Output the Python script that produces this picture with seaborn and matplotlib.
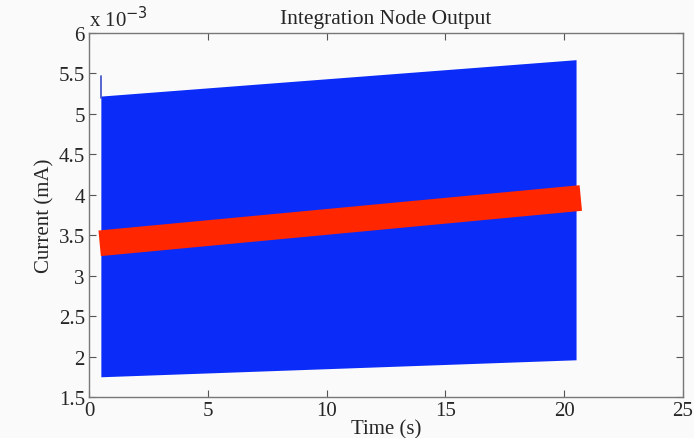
import pandas as pd
import matplotlib
matplotlib.use("Agg")
import matplotlib.pyplot as plt
import seaborn as sns
from matplotlib.ticker import FuncFormatter

# valores (corrente em A)
env_time = [0.5, 20.5]
env_upper = [5.22e-3, 5.67e-3]
env_lower = [1.75e-3, 1.96e-3]
spike_time = [0.5, 0.5]
spike_current = [5.2e-3, 5.47e-3]
avg_time = [0.45, 20.7]
avg_current = [3.40e-3, 3.96e-3]

x_ticks = [0, 5, 10, 15, 20, 25]
y_ticks = [1.5e-3, 2e-3, 2.5e-3, 3e-3, 3.5e-3, 4e-3, 4.5e-3, 5e-3, 5.5e-3, 6e-3]

sns.set_style("ticks")
plt.rcParams['font.family'] = ['Liberation Serif', 'DejaVu Serif']

bg = '#fafafa'
fig = plt.figure(figsize=(6.94, 4.39), dpi=100, facecolor=bg)
ax = fig.add_axes([0.1282, 0.0934, 0.8559, 0.8292], facecolor=bg)

blue = '#0b2cf8'
red = '#ff2600'

ax.fill_between(env_time, env_lower, env_upper, color=blue, linewidth=0)
sns.lineplot(x=spike_time, y=spike_current, ax=ax, color='#3a4cc8',
             linewidth=1.2, estimator=None, sort=False)

avg = pd.DataFrame({'t': avg_time, 'i': avg_current})
sns.lineplot(data=avg, x='t', y='i', ax=ax, color=red, linewidth=18.5,
             solid_capstyle='butt', estimator=None)

ax.set_xlim(0, 25)
ax.set_ylim(1.5e-3, 6e-3)
ax.set_xticks(x_ticks)
ax.set_yticks(y_ticks)
ax.yaxis.set_major_formatter(FuncFormatter(lambda v, p: f"{v * 1e3:g}"))
ax.tick_params(direction='in', top=True, right=True, length=5, width=0.8,
               color='#555555', labelsize=15, pad=3)
for s in ax.spines.values():
    s.set_color('#777777')
    s.set_linewidth(1.0)

ax.text(0.0, 1.006, r'x 10$^{-3}$', transform=ax.transAxes, fontsize=15,
        ha='left', va='bottom')
ax.set_title('Integration Node Output', fontsize=15.5, pad=7)
ax.set_xlabel('Time (s)', fontsize=15, labelpad=-1)
ax.set_ylabel('Current (mA)', fontsize=15, labelpad=3)

plt.savefig('out.png', dpi=100, facecolor=bg)
